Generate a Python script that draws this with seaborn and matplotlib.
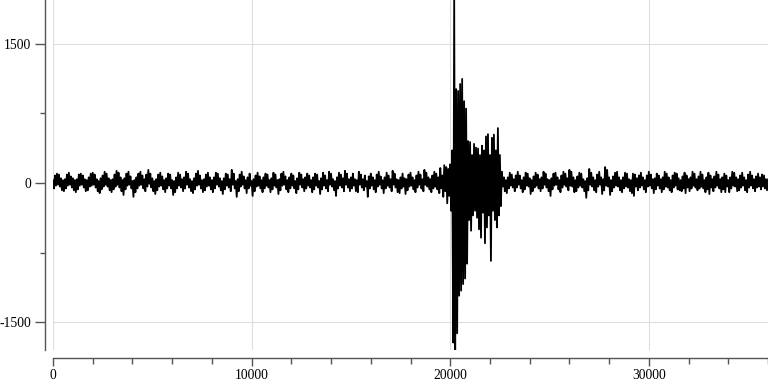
import numpy as np
import pandas as pd
import matplotlib
matplotlib.use("Agg")
import matplotlib.pyplot as plt
import seaborn as sns
from matplotlib.ticker import MultipleLocator, FixedLocator

# ---- data ----
pre_step = 50           # samples 0 .. 19950
pre_values = [
    30, -60, 80, -30, 100, -20, 90, -40, 50, -80, 30, -90, 40, -60, 90, -30, 110, -20, 70, -50,
    50, -80, 30, -100, 40, -70, 90, -30, 100, -20, 80, -50, 40, -90, 30, -80, 60, -40, 100, -30,
    110, -20, 90, -50, 40, -90, 20, -110, 50, -70, 80, -40, 120, -20, 100, -40, 50, -80, 30, -100,
    40, -70, 90, -40, 130, -20, 110, -50, 60, -90, 30, -130, 50, -70, 100, -30, 120, -20, 70, -60,
    20, -150, 30, -100, 60, -60, 100, -30, 120, -20, 80, -60, 40, -90, 90, -40, 140, -10, 100, -50,
    50, -90, 20, -120, 40, -80, 90, -40, 110, -30, 70, -70, 30, -100, 50, -60, 100, -30, 90, -60,
    30, -130, 20, -100, 60, -60, 110, -30, 90, -50, 40, -90, 60, -60, 120, -20, 100, -50, 40, -90,
    20, -110, 50, -70, 100, -30, 130, -20, 80, -60, 30, -100, 40, -80, 90, -40, 110, -30, 60, -70,
    30, -100, 60, -60, 110, -20, 100, -40, 50, -80, 20, -120, 50, -70, 100, -30, 90, -50, 40, -90,
    140, -20, 100, -60, 20, -150, 40, -90, 90, -40, 120, -20, 70, -60, 30, -110, 60, -60, 100, -30,
    20, -140, 40, -90, 80, -40, 110, -30, 70, -60, 30, -100, 60, -60, 100, -30, 90, -50, 30, -100,
    50, -70, 110, -30, 90, -50, 30, -120, 40, -80, 100, -30, 120, -20, 70, -70, 30, -100, 60, -60,
    100, -30, 80, -60, 20, -110, 50, -70, 110, -20, 90, -50, 40, -90, 60, -60, 100, -30, 80, -50,
    30, -100, 60, -70, 100, -30, 90, -50, 20, -120, 50, -70, 110, -30, 80, -60, 30, -90, 120, -20,
    100, -40, 40, -80, 20, -140, 60, -60, 110, -30, 90, -50, 50, -90, 130, -20, 100, -50, 40, -90,
    60, -60, 100, -30, 40, -90, 30, -100, 120, -20, 90, -50, 40, -80, 80, -40, 20, -150, 70, -60,
    100, -30, 60, -70, 30, -100, 90, -40, 120, -20, 70, -60, 30, -110, 60, -60, 110, -30, 80, -50,
    40, -90, 130, -20, 100, -50, 40, -100, 30, -110, 60, -60, 100, -40, 50, -120, 40, -80, 90, -40,
    110, -30, 60, -70, 30, -100, 80, -50, 120, -20, 90, -60, 40, -90, 140, -20, 110, -40, 60, -70,
    40, -100, 80, -60, 120, -40, 100, -70, 60, -110, 160, -60, 80, -150, 190, -90, 170, -220, 150, -140,
]
burst_start = 20000
burst_step = 50         # samples 20000 .. 22550
burst_values = [
    200, -300, 350, -1720, 1970, -1800, 1010, -1620, 990, -1215,
    1065, -1160, 1120, -1090, 880, -1030, 800, -870, 450, -400,
    440, -515, 300, -350, 420, -300, 380, -375, 370, -500,
    300, -590, 400, -320, 350, -650, 500, -480, 525, -350,
    300, -840, 485, -300, 520, -400, 350, -480, 590, -350,
    300, -250,
]
post_start = 22600
post_step = 50          # samples 22600 .. 36000
post_values = [
    120, -40, 60, -90, 30, -110, 60, -60, 110, -30, 90, -50, 40, -90, 80, -50, 120, -20, 80, -60,
    30, -100, 60, -70, 110, -30, 100, -40, 50, -120, 30, -90, 70, -50, 110, -30, 90, -60, 40, -90,
    60, -60, 120, -20, 100, -50, 40, -90, 30, -140, 50, -70, 100, -30, 110, -20, 60, -70, 30, -100,
    80, -50, 120, -20, 100, -40, 50, -80, 140, -30, 120, -40, 60, -100, 30, -90, 70, -50, 110, -30,
    100, -50, 40, -90, 20, -160, 50, -80, 150, -20, 110, -40, 60, -80, 30, -100, 90, -40, 120, -20,
    60, -120, 40, -80, 170, -30, 140, -40, 60, -130, 30, -90, 70, -50, 110, -30, 120, -40, 60, -80,
    30, -100, 60, -60, 110, -40, 100, -50, 40, -90, 30, -110, 100, -140, 90, -40, 50, -80, 80, -50,
    110, -30, 60, -70, 30, -100, 80, -40, 120, -30, 90, -60, 40, -110, 50, -70, 100, -30, 80, -60,
    40, -100, 60, -70, 120, -40, 100, -50, 60, -80, 30, -100, 80, -50, 110, -30, 100, -70, 50, -80,
    30, -90, 70, -60, 110, -110, 80, -50, 40, -90, 60, -60, 120, -30, 100, -50, 40, -80, 70, -60,
    120, -40, 90, -60, 30, -100, 60, -70, 110, -120, 80, -50, 40, -90, 70, -50, 120, -30, 90, -60,
    40, -100, 60, -70, 100, -100, 80, -40, 30, -100, 60, -60, 120, -30, 110, -40, 60, -90, 40, -80,
    80, -50, 110, -30, 60, -80, 30, -100, 90, -50, 120, -30, 80, -60, 40, -90, 70, -50, 100, -40,
    60, -70, 90, -40, 80, -60, 40, -80, 40,
]
x_major_labels = [0, 10000, 20000, 30000]
y_major_labels = [-1500, 0, 1500]

# ---- build series ----
x = np.concatenate([
    np.arange(len(pre_values)) * pre_step,
    burst_start + np.arange(len(burst_values)) * burst_step,
    post_start + np.arange(len(post_values)) * post_step,
])
y = np.array(pre_values + burst_values + post_values, dtype=float)
df = pd.DataFrame({"sample": x, "value": y})

sns.set_theme(style="white")
plt.rcParams["font.family"] = ["Liberation Serif", "DejaVu Serif"]
plt.rcParams["axes.unicode_minus"] = False

dpi = 100
fig = plt.figure(figsize=(7.68, 3.84), dpi=dpi)
ax = fig.add_axes([53 / 768, 34 / 384, (768 - 53) / 768, 350 / 384])

sns.lineplot(data=df, x="sample", y="value", color="black", linewidth=1.3,
             estimator=None, sort=False, ax=ax)

ax.set_xlim(df["sample"].min(), df["sample"].max())
ax.set_ylim(df["value"].min(), df["value"].max())

ax.xaxis.set_major_locator(FixedLocator(x_major_labels))
ax.xaxis.set_minor_locator(MultipleLocator(2000))
ax.yaxis.set_major_locator(FixedLocator(y_major_labels))
ax.yaxis.set_minor_locator(MultipleLocator(750))

ax.grid(True, which="major", color="#dddddd", linewidth=0.8)
ax.set_axisbelow(True)

for s in ["top", "right"]:
    ax.spines[s].set_visible(False)
px = 72 / dpi
ax.spines["left"].set_position(("outward", 8 * px))
ax.spines["bottom"].set_position(("outward", 8 * px))
for s in ["left", "bottom"]:
    ax.spines[s].set_color("#555555")
    ax.spines[s].set_linewidth(1.0)

ax.tick_params(axis="y", which="major", direction="out", length=10 * px,
               width=1.0, color="#555555", pad=3, labelsize=9.8, labelcolor="black", left=True)
ax.tick_params(axis="y", which="minor", direction="out", length=5 * px,
               width=1.0, color="#555555", left=True)
ax.tick_params(axis="x", which="major", direction="out", length=8 * px,
               width=1.0, color="#555555", pad=2, labelsize=9.8, labelcolor="black", bottom=True)
ax.tick_params(axis="x", which="minor", direction="out", length=6 * px,
               width=1.0, color="#555555", bottom=True)

ax.set_xlabel("")
ax.set_ylabel("")

fig.savefig("out.png", dpi=dpi)
